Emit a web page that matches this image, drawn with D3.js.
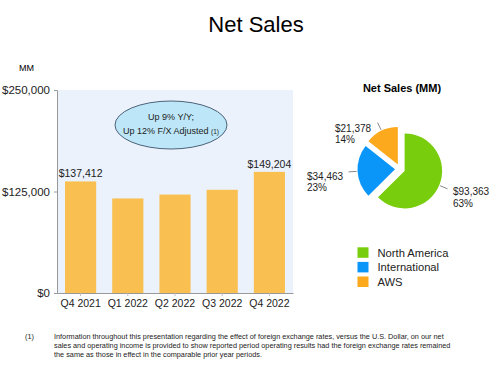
<!DOCTYPE html>
<html>
<head>
<meta charset="utf-8">
<script src="https://cdn.jsdelivr.net/npm/d3@7"></script>
<style>
  body { margin: 0; background: #fff; }
  svg { display: block; font-family: "Liberation Sans", Arial, sans-serif; }
</style>
</head>
<body>
<div id="chart"></div>
<script>
// bar chart data
const quarters = ['Q4 2021', 'Q1 2022', 'Q2 2022', 'Q3 2022', 'Q4 2022'];
const netSales = [137412, 116444, 121234, 127101, 149204];
const labelledBars = ['Q4 2021', 'Q4 2022'];
const yTicks = [0, 125000, 250000];

// pie data
const segments = ['North America', 'International', 'AWS'];
const segmentSales = [93363, 34463, 21378];
const segmentPct = ['63%', '23%', '14%'];
const segmentColors = ['#78cd0c', '#0a95f8', '#fca91e'];

const footnote = [
  'Information throughout this presentation regarding the effect of foreign exchange rates, versus the U.S. Dollar, on our net',
  'sales and operating income is provided to show reported period operating results had the foreign exchange rates remained',
  'the same as those in effect in the comparable prior year periods.'
];

const W = 497, H = 367;
const svg = d3.select('#chart').append('svg')
  .attr('width', W)
  .attr('height', H);

// Title
svg.append('text')
  .attr('x', 256).attr('y', 31.5)
  .attr('text-anchor', 'middle')
  .style('font-size', '22px')
  .attr('fill', '#000')
  .text('Net Sales');

// ---- bar chart ----
const plot = { left: 57, right: 293, top: 90, bottom: 293 };

const x = d3.scaleBand()
  .domain(quarters)
  .range([plot.left, plot.right])
  .paddingInner(0.34)
  .paddingOuter(0.17);

const y = d3.scaleLinear()
  .domain([0, 250000])
  .range([plot.bottom, plot.top]);

svg.append('rect')
  .attr('x', plot.left).attr('y', plot.top)
  .attr('width', plot.right - plot.left)
  .attr('height', plot.bottom - plot.top)
  .attr('fill', '#ebf2fc');

svg.append('text')
  .attr('x', 19).attr('y', 71)
  .style('font-size', '9px')
  .text('MM');

svg.selectAll('rect.bar')
  .data(netSales)
  .enter()
  .append('rect')
  .attr('class', 'bar')
  .attr('x', (d, i) => x(quarters[i]))
  .attr('y', d => y(d))
  .attr('width', x.bandwidth())
  .attr('height', d => y(0) - y(d))
  .attr('fill', '#f9bf50');

svg.selectAll('text.barlabel')
  .data(netSales.filter((d, i) => labelledBars.includes(quarters[i])))
  .enter()
  .append('text')
  .attr('class', 'barlabel')
  .attr('x', d => x(quarters[netSales.indexOf(d)]) + x.bandwidth() / 2)
  .attr('y', d => y(d) - 4)
  .attr('text-anchor', 'middle')
  .style('font-size', '10.5px')
  .attr('fill', '#222')
  .text(d => '$' + d3.format(',')(d));

// axes
const yAxis = svg.append('g')
  .attr('transform', `translate(${plot.left},0)`)
  .call(d3.axisLeft(y).tickValues(yTicks).tickSize(3).tickFormat(d => '$' + d3.format(',')(d)));
yAxis.select('.domain').attr('stroke', '#999');
yAxis.selectAll('.tick line').attr('stroke', '#999');
yAxis.selectAll('.tick text')
  .attr('x', -7)
  .style('font-size', '11.5px')
  .style('font-family', '"Liberation Sans", Arial, sans-serif')
  .attr('fill', '#222');

const xAxis = svg.append('g')
  .attr('transform', `translate(0,${plot.bottom})`)
  .call(d3.axisBottom(x).tickSize(3).tickSizeOuter(0));
xAxis.select('.domain').attr('stroke', '#999');
xAxis.selectAll('.tick line').attr('stroke', '#bbb');
xAxis.selectAll('.tick text')
  .attr('y', 7)
  .style('font-size', '10.5px')
  .style('font-family', '"Liberation Sans", Arial, sans-serif')
  .attr('fill', '#222');

// callout bubble
svg.append('ellipse')
  .attr('cx', 171).attr('cy', 125)
  .attr('rx', 56).attr('ry', 24)
  .attr('fill', '#bde7f8')
  .attr('stroke', '#2b3e55')
  .attr('stroke-width', 0.8);

svg.append('text')
  .attr('x', 171).attr('y', 120)
  .attr('text-anchor', 'middle')
  .style('font-size', '9px')
  .attr('fill', '#222')
  .text('Up 9% Y/Y;');

const line2 = svg.append('text')
  .attr('x', 171).attr('y', 133.5)
  .attr('text-anchor', 'middle')
  .style('font-size', '9px')
  .attr('fill', '#222');
line2.append('tspan').text('Up 12% F/X Adjusted ');
line2.append('tspan').style('font-size', '6.5px').text('(1)');

// ---- pie chart ----
svg.append('text')
  .attr('x', 402).attr('y', 92)
  .attr('text-anchor', 'middle')
  .style('font-size', '11px')
  .style('font-weight', 'bold')
  .text('Net Sales (MM)');

const cx = 400, cy = 169, r = 37.5, explode = 5;
const pie = d3.pie().sort(null).value(d => d);
const arcs = pie(segmentSales);
const arc = d3.arc().innerRadius(0).outerRadius(r);

const pieG = svg.append('g').attr('transform', `translate(${cx},${cy})`);

function dir(a) {
  const m = (a.startAngle + a.endAngle) / 2;
  return [Math.sin(m), -Math.cos(m)];
}

pieG.selectAll('path')
  .data(arcs)
  .enter()
  .append('path')
  .attr('d', arc)
  .attr('transform', a => {
    const [dx, dy] = dir(a);
    return `translate(${dx * explode},${dy * explode})`;
  })
  .attr('fill', (a, i) => segmentColors[i]);

// leader lines
pieG.selectAll('line.leader')
  .data(arcs)
  .enter()
  .append('line')
  .attr('class', 'leader')
  .attr('x1', a => dir(a)[0] * (r + explode + 1))
  .attr('y1', a => dir(a)[1] * (r + explode + 1))
  .attr('x2', a => dir(a)[0] * (r + explode + 9))
  .attr('y2', a => dir(a)[1] * (r + explode + 9))
  .attr('stroke', '#555')
  .attr('stroke-width', 0.7);

// pie labels (positions relative to the leader end)
const labelPos = [
  { x: 453, y: 195 },
  { x: 307, y: 179.5 },
  { x: 335, y: 131.5 }
];
segmentSales.forEach((v, i) => {
  const t = svg.append('text')
    .attr('x', labelPos[i].x)
    .attr('y', labelPos[i].y)
    .style('font-size', '10px')
    .attr('fill', '#222');
  t.append('tspan').text('$' + d3.format(',')(v));
  t.append('tspan').attr('x', labelPos[i].x).attr('dy', 11.7).text(segmentPct[i]);
});

// legend
const legend = svg.selectAll('g.legend')
  .data(segments)
  .enter()
  .append('g')
  .attr('class', 'legend')
  .attr('transform', (d, i) => `translate(357.5,${247.3 + i * 14.6})`);
legend.append('rect')
  .attr('width', 11).attr('height', 10.5)
  .attr('fill', (d, i) => segmentColors[i]);
legend.append('text')
  .attr('x', 20).attr('y', 9.5)
  .style('font-size', '11.2px')
  .attr('fill', '#222')
  .text(d => d);

// footnote
svg.append('text')
  .attr('x', 25).attr('y', 338.5)
  .style('font-size', '7.3px')
  .attr('fill', '#222')
  .text('(1)');

svg.selectAll('text.note')
  .data(footnote)
  .enter()
  .append('text')
  .attr('class', 'note')
  .attr('x', 54)
  .attr('y', (d, i) => 338.5 + i * 9.3)
  .style('font-size', '7.3px')
  .attr('fill', '#222')
  .text(d => d);
</script>
</body>
</html>
